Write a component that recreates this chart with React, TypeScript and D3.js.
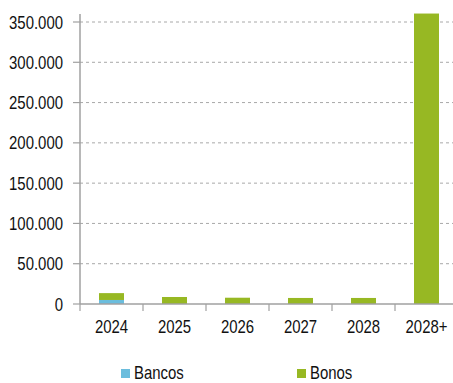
import React from "react";
import * as d3 from "d3";

const categories = ["2024", "2025", "2026", "2027", "2028", "2028+"];
const bancos = [5000, 0, 0, 0, 0, 0];
const bonos = [8500, 8700, 7800, 7500, 7500, 360500];
const yTicks = [0, 50000, 100000, 150000, 200000, 250000, 300000, 350000];
const seriesNames = ["Bancos", "Bonos"];
const colors = ["#6BBDDD", "#97B823"];

const W = 453, H = 383;
const FONT = "'Liberation Sans', Arial, sans-serif";
const SX = 0.83;

function T({ x, y, anchor, children }: { x: number; y: number; anchor?: string; children: any }) {
  return (
    <text transform={`translate(${x},${y}) scale(${SX},1)`} textAnchor={anchor || "start"} fontFamily={FONT} fontSize={18} fill="#111">
      {children}
    </text>
  );
}

export default function App() {
  const x0 = 80, plotRight = 458, yBase = 304, yTop = 22;
  const x = d3.scaleBand().domain(categories).range([x0, plotRight]).paddingInner(0).paddingOuter(0);
  const y = d3.scaleLinear().domain([0, 350000]).range([yBase, yTop]);
  const fmt = (v: number) => d3.format(",")(v).replace(/,/g, ".");
  const barW = 25;
  const data = categories.map((c, i) => ({ c, vals: [bancos[i], bonos[i]] }));
  const stack = d3.stack<any>().keys(["0", "1"]).value((d: any, k) => d.vals[+k]);
  const series = stack(data as any);

  return (
    <svg width={W} height={H} style={{ position: "absolute", left: 0, top: 0, background: "#fff" }}>
      {yTicks.filter(t => t > 0).map(t => (
        <line key={t} x1={x0} x2={W} y1={y(t)} y2={y(t)} stroke="#a8a8a8" strokeWidth={1} strokeDasharray="3,3" />
      ))}
      {series.map((s, si) => (
        <g key={si}>
          {s.map((d, i) => {
            const h = y(d[0]) - y(d[1]);
            if (h <= 0) return null;
            return (
              <rect key={i} x={(x(categories[i]) as number) + x.bandwidth() / 2 - barW / 2} y={y(d[1])} width={barW} height={h} fill={colors[si]} />
            );
          })}
        </g>
      ))}
      <line x1={x0} x2={x0} y1={14} y2={yBase} stroke="#a0a0a0" strokeWidth={1.5} />
      <line x1={x0} x2={W} y1={yBase} y2={yBase} stroke="#a0a0a0" strokeWidth={1.5} />
      {yTicks.map(t => (
        <g key={t}>
          <line x1={73} x2={x0} y1={y(t)} y2={y(t)} stroke="#a0a0a0" strokeWidth={1.2} />
          <T x={63} y={y(t) + 6.5} anchor="end">{fmt(t)}</T>
        </g>
      ))}
      {categories.map((c, i) => (
        <g key={c}>
          <line x1={x(c) as number} x2={x(c) as number} y1={yBase} y2={yBase + 7} stroke="#a0a0a0" strokeWidth={1.2} />
          <T x={(x(c) as number) + x.bandwidth() / 2} y={333} anchor="middle">{c}</T>
        </g>
      ))}
      {seriesNames.map((n, i) => {
        const lx = [121, 297][i];
        return (
          <g key={n}>
            <rect x={lx} y={369} width={9} height={9} fill={colors[i]} />
            <T x={lx + 13} y={379}>{n}</T>
          </g>
        );
      })}
    </svg>
  );
}
